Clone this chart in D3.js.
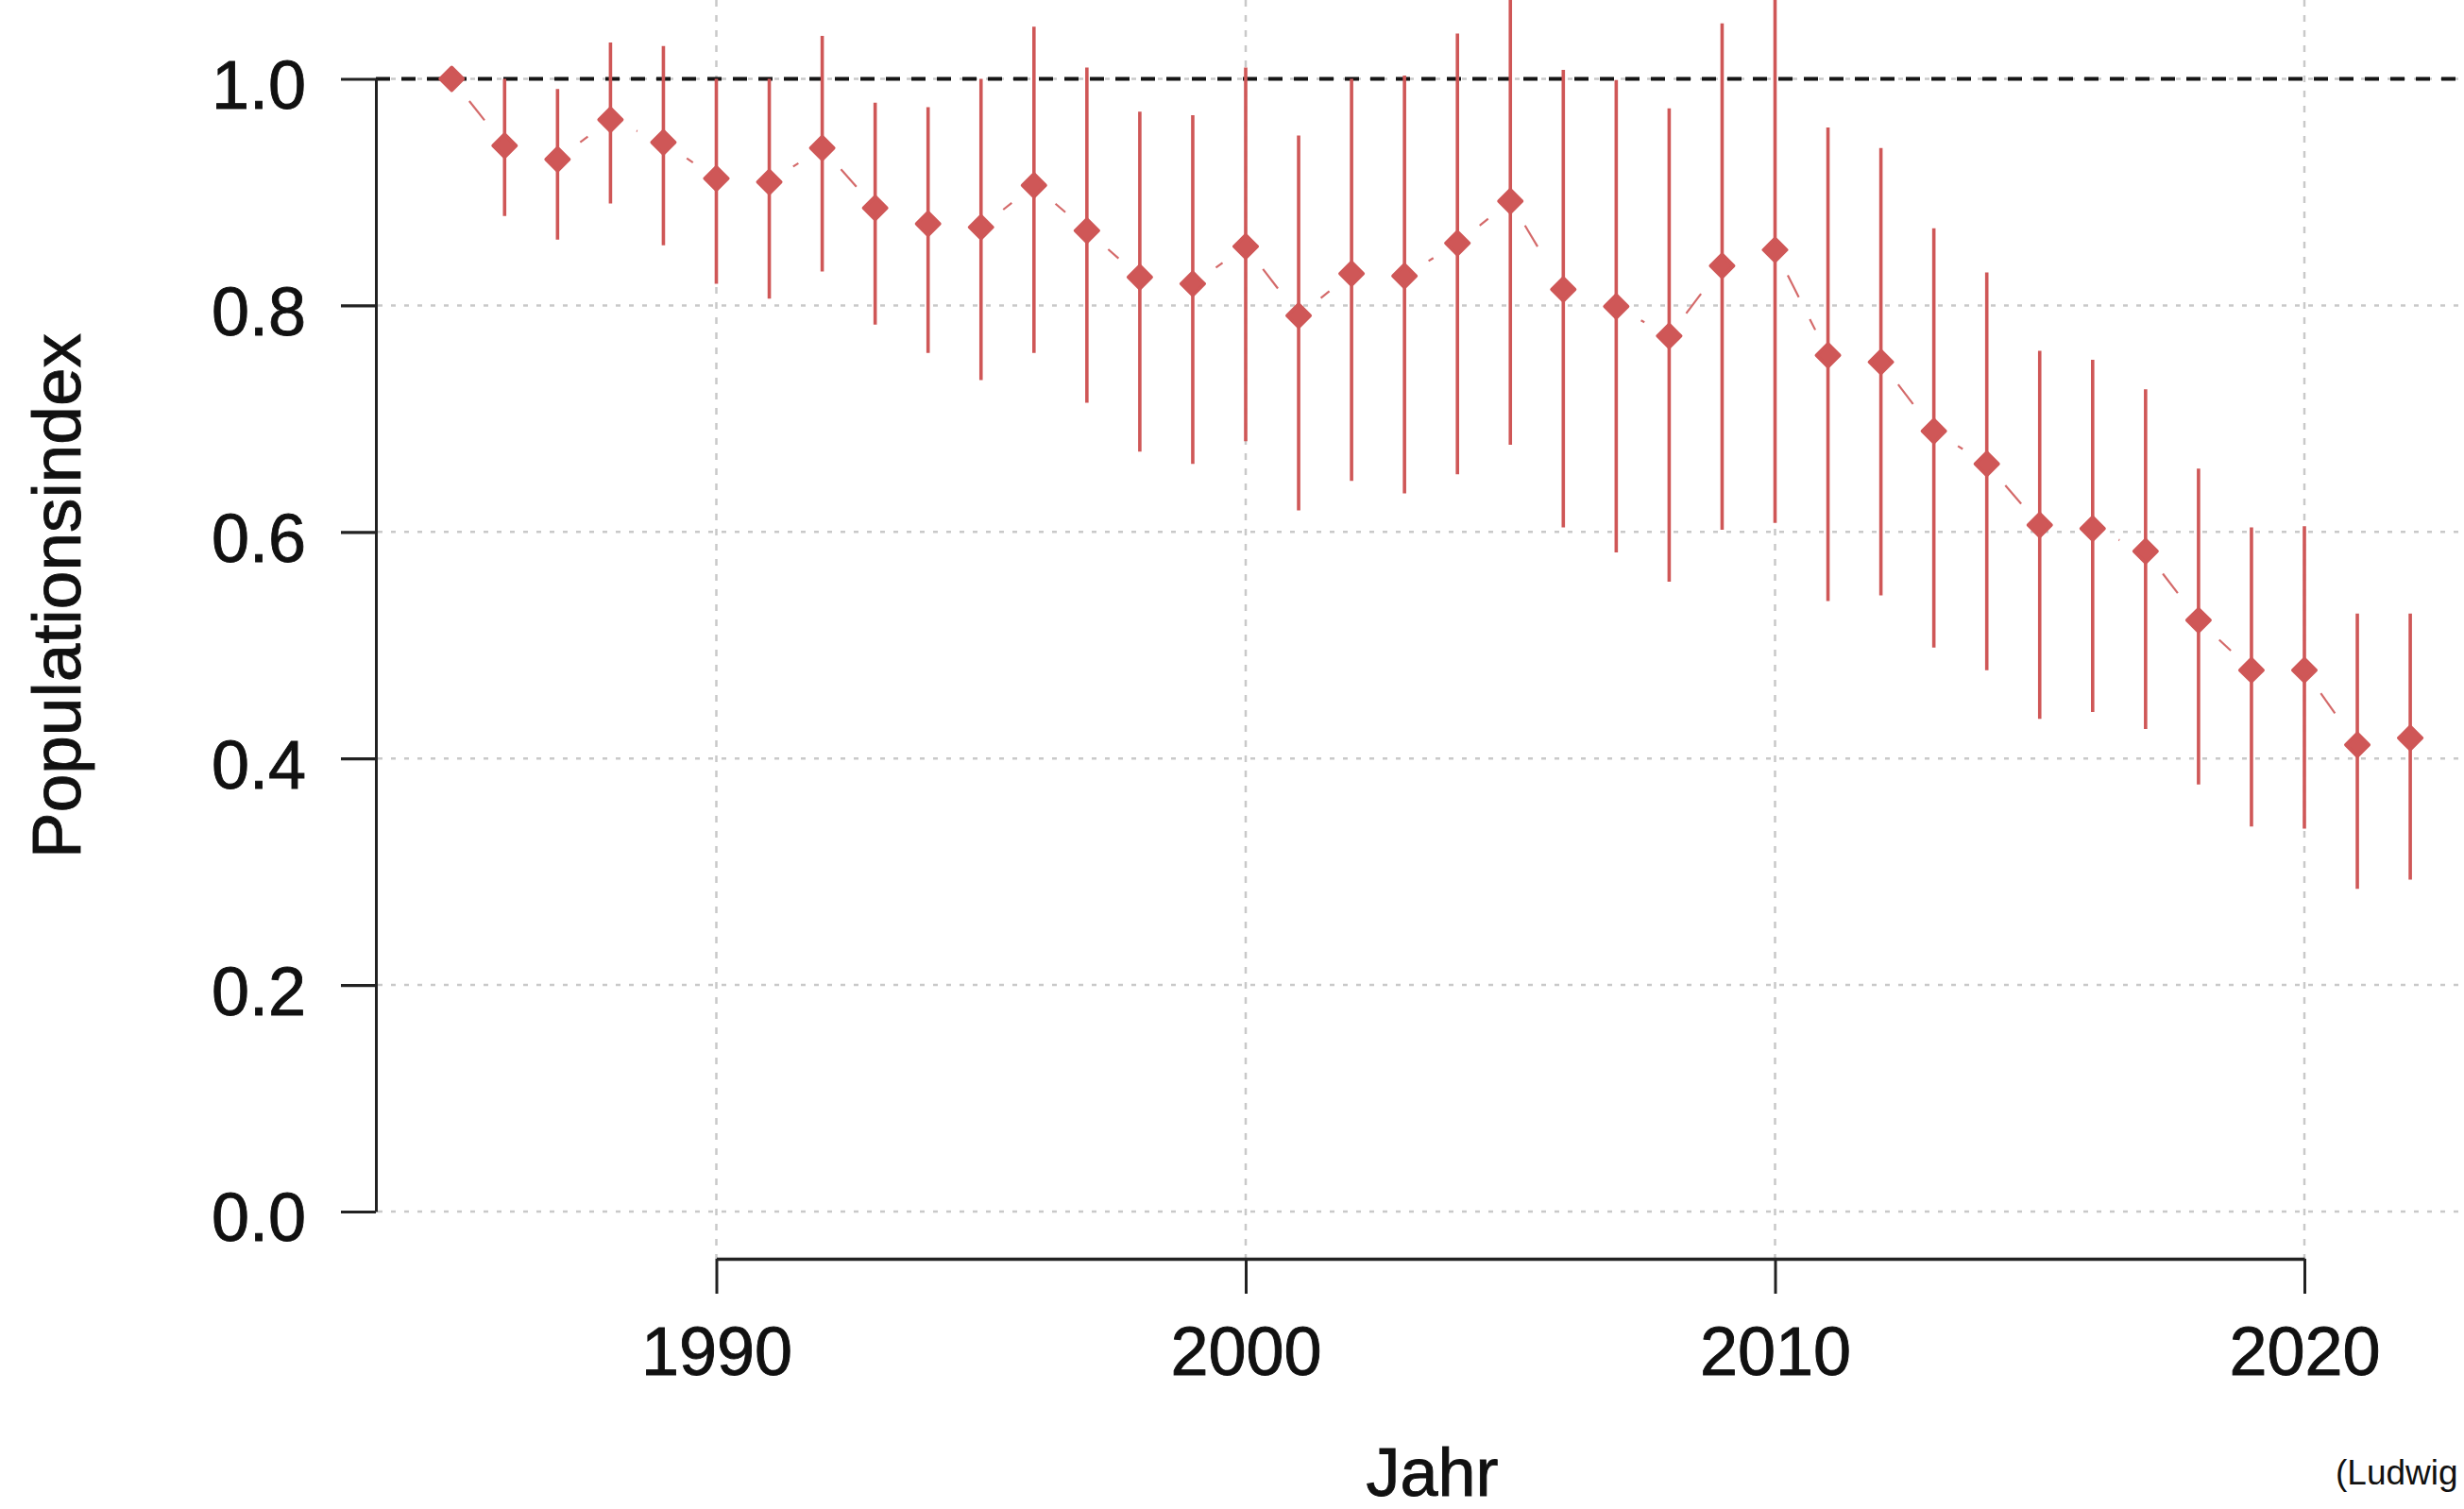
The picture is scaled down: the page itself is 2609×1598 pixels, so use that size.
<!DOCTYPE html>
<html lang="de">
<head>
<meta charset="utf-8">
<title>Populationsindex</title>
<script src="https://cdn.jsdelivr.net/npm/d3@7"></script>
<style>
  html, body { margin: 0; padding: 0; background: #ffffff; overflow: hidden; }
  svg { display: block; }
  text { font-family: "Liberation Sans", Arial, sans-serif; fill: #111; }
  .heavy { stroke: #111; stroke-width: 0.9px; }
</style>
</head>
<body>
<div id="chart"></div>
<script>
// Jahresreihe des Populationsindex (1985 = 1) mit Konfidenzintervallen
const years = [1985, 1986, 1987, 1988, 1989, 1990, 1991, 1992, 1993, 1994,
               1995, 1996, 1997, 1998, 1999, 2000, 2001, 2002, 2003, 2004,
               2005, 2006, 2007, 2008, 2009, 2010, 2011, 2012, 2013, 2014,
               2015, 2016, 2017, 2018, 2019, 2020, 2021, 2022];

const indexValues = [1.000, 0.941, 0.929, 0.964, 0.944, 0.912, 0.909, 0.939, 0.886, 0.872,
                     0.869, 0.906, 0.866, 0.825, 0.819, 0.852, 0.791, 0.828, 0.826, 0.855,
                     0.892, 0.814, 0.799, 0.773, 0.835, 0.849, 0.756, 0.750, 0.689, 0.660,
                     0.606, 0.603, 0.583, 0.522, 0.478, 0.478, 0.412, 0.418];

const lowerCI = [1.000, 0.879, 0.858, 0.890, 0.853, 0.819, 0.806, 0.830, 0.783, 0.758,
                 0.734, 0.758, 0.714, 0.671, 0.660, 0.680, 0.619, 0.645, 0.634, 0.651,
                 0.677, 0.604, 0.582, 0.556, 0.602, 0.608, 0.539, 0.544, 0.498, 0.478,
                 0.435, 0.441, 0.426, 0.377, 0.340, 0.338, 0.285, 0.293];

const upperCI = [1.000, 1.000, 0.991, 1.032, 1.029, 1.000, 1.000, 1.038, 0.979, 0.975,
                 1.000, 1.046, 1.010, 0.971, 0.968, 1.010, 0.950, 1.000, 1.003, 1.040,
                 1.080, 1.008, 0.999, 0.974, 1.049, 1.080, 0.957, 0.939, 0.868, 0.829,
                 0.760, 0.752, 0.726, 0.656, 0.604, 0.605, 0.528, 0.528];

const yTicks = [0, 0.2, 0.4, 0.6, 0.8, 1.0];
const xTicks = [1990, 2000, 2010, 2020];
const baseline = 1.0;

const xLabel = "Jahr";
const yLabel = "Populationsindex";
const sourceNote = "(Ludwig et al. 2023)";

// ---- layout ----
const W = 2609, H = 1598;
const plotLeft = 398;      // y axis position
const plotRight = 2635;    // right edge of the plot region (beyond the frame)
const plotBottom = 1333;   // lower edge of plot region (x axis position)
const red = "#cf5757";

const x = d3.scaleLinear().domain([1990, 2020]).range([758.5, 2440]);
const y = d3.scaleLinear().domain([0, 1]).range([1283, 83.5]);

const data = years.map((yr, i) => ({
  year: yr, value: indexValues[i], lo: lowerCI[i], hi: upperCI[i]
}));

const svg = d3.select("#chart").append("svg")
  .attr("width", W).attr("height", H)
  .attr("viewBox", `0 0 ${W} ${H}`);

svg.append("rect").attr("width", W).attr("height", H).attr("fill", "#ffffff");

// ---- grid ----
const grid = svg.append("g").attr("class", "grid");
grid.selectAll("line.h").data(yTicks).join("line")
  .attr("class", "h")
  .attr("x1", plotLeft + 2).attr("x2", W)
  .attr("y1", d => y(d)).attr("y2", d => y(d))
  .attr("stroke", "#c9c9c9").attr("stroke-width", 2.5)
  .attr("stroke-dasharray", "5,9");
grid.selectAll("line.v").data(xTicks).join("line")
  .attr("class", "v")
  .attr("x1", d => x(d)).attr("x2", d => x(d))
  .attr("y1", 0).attr("y2", plotBottom)
  .attr("stroke", "#c9c9c9").attr("stroke-width", 2.5)
  .attr("stroke-dasharray", "7,9");

// ---- reference line at 1.0 ----
svg.append("line")
  .attr("x1", plotLeft).attr("x2", W)
  .attr("y1", y(baseline)).attr("y2", y(baseline))
  .attr("stroke", "#151515").attr("stroke-width", 3.8)
  .attr("stroke-dasharray", "15,12");

// ---- confidence intervals ----
svg.append("g").selectAll("line").data(data.filter(d => d.hi > d.lo)).join("line")
  .attr("x1", d => x(d.year)).attr("x2", d => x(d.year))
  .attr("y1", d => y(d.lo)).attr("y2", d => y(d.hi))
  .attr("stroke", red).attr("stroke-width", 3.6);

// ---- connecting dashed segments, leaving a gap around each point ----
const gap = 30;
const segs = [];
for (let i = 0; i < data.length - 1; i++) {
  const x0 = x(data[i].year), y0 = y(data[i].value);
  const x1 = x(data[i + 1].year), y1 = y(data[i + 1].value);
  const len = Math.hypot(x1 - x0, y1 - y0);
  if (len <= 2 * gap) continue;
  const ux = (x1 - x0) / len, uy = (y1 - y0) / len;
  segs.push({ x0: x0 + ux * gap, y0: y0 + uy * gap, x1: x1 - ux * gap, y1: y1 - uy * gap });
}
svg.append("g").selectAll("line").data(segs).join("line")
  .attr("x1", d => d.x0).attr("y1", d => d.y0)
  .attr("x2", d => d.x1).attr("y2", d => d.y1)
  .attr("stroke", "#d46a6a").attr("stroke-width", 2.2)
  .attr("stroke-dasharray", "26,26");

// ---- points (filled diamonds) ----
const diamond = d3.symbol().type(d3.symbolSquare).size(300);
svg.append("g").selectAll("path").data(data).join("path")
  .attr("d", diamond)
  .attr("transform", d => `translate(${x(d.year)},${y(d.value)}) rotate(45)`)
  .attr("fill", red).attr("stroke", red).attr("stroke-width", 3.5)
  .attr("stroke-linejoin", "round");

// ---- axes ----
const yAxis = d3.axisLeft(y)
  .tickValues(yTicks)
  .tickFormat(d3.format(".1f"))
  .tickSize(37).tickSizeOuter(0).tickPadding(37);
const gy = svg.append("g").attr("transform", `translate(${plotLeft},0)`).call(yAxis);
gy.select(".domain").attr("stroke", "#222").attr("stroke-width", 3);
gy.selectAll(".tick line").attr("stroke", "#222").attr("stroke-width", 3.2);
gy.selectAll(".tick text")
  .attr("class", "heavy")
  .attr("font-size", 72).attr("dy", "0.43em")
  .attr("font-family", "'Liberation Sans', Arial, sans-serif").attr("fill", "#111");

const xAxis = d3.axisBottom(x)
  .tickValues(xTicks)
  .tickFormat(d3.format("d"))
  .tickSize(37).tickSizeOuter(0).tickPadding(35);
const gx = svg.append("g").attr("transform", `translate(0,${plotBottom})`).call(xAxis);
gx.select(".domain").attr("stroke", "#222").attr("stroke-width", 3.4);
gx.selectAll(".tick line").attr("stroke", "#222").attr("stroke-width", 3);
gx.selectAll(".tick text")
  .attr("class", "heavy")
  .attr("font-size", 72)
  .attr("font-family", "'Liberation Sans', Arial, sans-serif").attr("fill", "#111");

// ---- axis titles ----
svg.append("text")
  .attr("class", "heavy")
  .attr("x", (plotLeft + plotRight) / 2).attr("y", 1584)
  .attr("text-anchor", "middle").attr("font-size", 72)
  .text(xLabel);

svg.append("text")
  .attr("class", "heavy")
  .attr("transform", "translate(85,631) rotate(-90)")
  .attr("text-anchor", "middle").attr("font-size", 73)
  .text(yLabel);

// ---- source note ----
svg.append("text")
  .attr("x", 2473).attr("y", 1572)
  .attr("font-family", "Lato, 'Open Sans', sans-serif")
  .attr("font-size", 37).attr("fill", "#111")
  .text(sourceNote);
</script>
</body>
</html>
